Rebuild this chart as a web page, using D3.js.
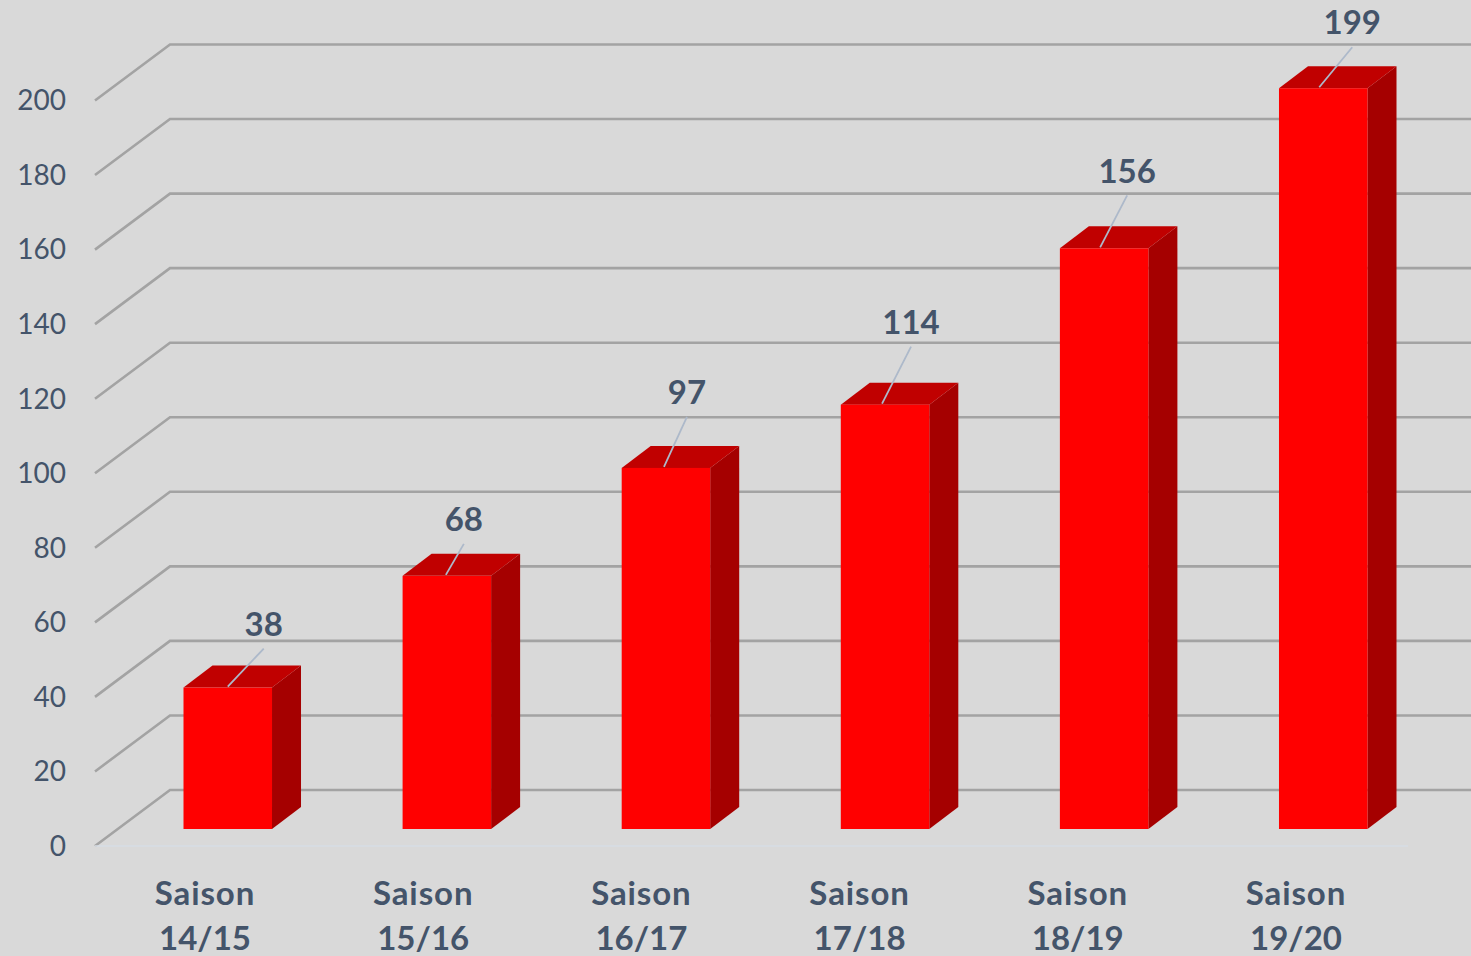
<!DOCTYPE html>
<html>
<head>
<meta charset="utf-8">
<script src="https://cdn.jsdelivr.net/npm/d3@7"></script>
<style>
  html, body { margin: 0; padding: 0; background: #d9d9d9; overflow: hidden; }
  svg { display: block; font-family: Lato, "Open Sans", sans-serif; }
</style>
</head>
<body>
<svg></svg>
<script>
'use strict';

var seasons = ['14/15', '15/16', '16/17', '17/18', '18/19', '19/20'];
var values = [38, 68, 97, 114, 156, 199];
var yTicks = [0, 20, 40, 60, 80, 100, 120, 140, 160, 180, 200];

//where the value labels were dragged to, relative to the bar top (dx, dy) and
//how far the leader line lands from the bar centre
var labelOffsets = [[36, -64], [17, -57], [21, -76], [26, -83], [23, -78], [29, -66]];
var leaderEnds = [0, -1, -2, -3, -4, -4];

var SVG_SIZE = {width: 1471, height: 956};
var DEPTH = {x: 75, y: -56};      //floor front edge to back wall
var BAR_DEPTH = {x: 29, y: -22};

var svg = d3.select('svg')
  .attr('width', SVG_SIZE.width).attr('height', SVG_SIZE.height);

svg.append('rect')
  .attr('width', SVG_SIZE.width)
  .attr('height', SVG_SIZE.height)
  .attr('fill', '#d9d9d9');

//front edge of the chart box, where the tick labels sit
var yScale = d3.scaleLinear().domain([0, 200]).range([846, 100.5]);
//front face of the bars, a bit further back on the floor
var barY = d3.scaleLinear().domain([0, 200]).range([829, 84.5]);
var barX = d3.scaleBand().domain(seasons).range([183.5, 1367.5]).paddingInner(0.596).paddingOuter(0);
var labelX = d3.scalePoint().domain(seasons).range([205, 1296]);

//back wall gridlines plus the slanted bit on the side wall
var grid = svg.append('g');
grid.selectAll('path').data(yTicks).enter().append('path')
  .attr('d', function(d) {
    var y = yScale(d);
    return 'M95,' + y + 'L' + (95 + DEPTH.x) + ',' + (y + DEPTH.y) + 'L' + SVG_SIZE.width + ',' + (y + DEPTH.y);
  })
  .attr('fill', 'none')
  .attr('stroke', '#a3a3a3')
  .attr('stroke-width', 2.6);

//front floor edge
svg.append('line')
  .attr('x1', 95).attr('x2', 1408)
  .attr('y1', yScale(0)).attr('y2', yScale(0))
  .attr('stroke', '#d6dce5')
  .attr('stroke-width', 1.5);

//bars: side and top first, then the front
var bars = svg.selectAll('.bar').data(values).enter().append('g').attr('class', 'bar');

bars.append('path')
  .attr('fill', '#a50000')
  .attr('d', function(d, i) {
    var x = barX(seasons[i]) + barX.bandwidth();
    return 'M' + x + ',' + barY(d) +
      'l' + BAR_DEPTH.x + ',' + BAR_DEPTH.y +
      'L' + (x + BAR_DEPTH.x) + ',' + (barY(0) + BAR_DEPTH.y) +
      'L' + x + ',' + barY(0) + 'Z';
  });

bars.append('path')
  .attr('fill', '#c00000')
  .attr('d', function(d, i) {
    var x = barX(seasons[i]);
    return 'M' + x + ',' + barY(d) +
      'l' + BAR_DEPTH.x + ',' + BAR_DEPTH.y +
      'h' + barX.bandwidth() +
      'l' + (-BAR_DEPTH.x) + ',' + (-BAR_DEPTH.y) + 'Z';
  });

bars.append('rect')
  .attr('fill', '#ff0000')
  .attr('x', function(d, i) { return barX(seasons[i]); })
  .attr('y', function(d) { return barY(d); })
  .attr('width', barX.bandwidth())
  .attr('height', function(d) { return barY(0) - barY(d); });

//leader lines from the label down to the bar
bars.append('line')
  .attr('stroke', '#adb9ca')
  .attr('stroke-width', 1.8)
  .attr('x1', function(d, i) { return barX(seasons[i]) + barX.bandwidth() / 2 + labelOffsets[i][0]; })
  .attr('y1', function(d, i) { return barY(d) + labelOffsets[i][1] + 25; })
  .attr('x2', function(d, i) { return barX(seasons[i]) + barX.bandwidth() / 2 + leaderEnds[i]; })
  .attr('y2', function(d) { return barY(d) - 1; });

bars.append('text')
  .text(function(d) { return d; })
  .attr('x', function(d, i) { return barX(seasons[i]) + barX.bandwidth() / 2 + labelOffsets[i][0]; })
  .attr('y', function(d, i) { return barY(d) + labelOffsets[i][1]; })
  .attr('dy', '0.37em')
  .attr('text-anchor', 'middle')
  .attr('font-size', 33)
  .attr('font-weight', 700)
  .attr('fill', '#44546a');

//y tick labels
svg.append('g').selectAll('text').data(yTicks).enter().append('text')
  .text(function(d) { return d; })
  .attr('x', 66)
  .attr('y', function(d) { return yScale(d); })
  .attr('dy', '0.35em')
  .attr('text-anchor', 'end')
  .attr('font-size', 28)
  .attr('fill', '#44546a');

//category labels on two lines
var cats = svg.append('g').selectAll('text').data(seasons).enter().append('text')
  .attr('text-anchor', 'middle')
  .attr('font-size', 33)
  .attr('font-weight', 700)
  .attr('fill', '#44546a');
cats.append('tspan')
  .text('Saison')
  .attr('letter-spacing', 0.9)
  .attr('x', function(d) { return labelX(d); })
  .attr('y', 905);
cats.append('tspan')
  .text(function(d) { return d; })
  .attr('x', function(d) { return labelX(d); })
  .attr('y', 950);
</script>
</body>
</html>
